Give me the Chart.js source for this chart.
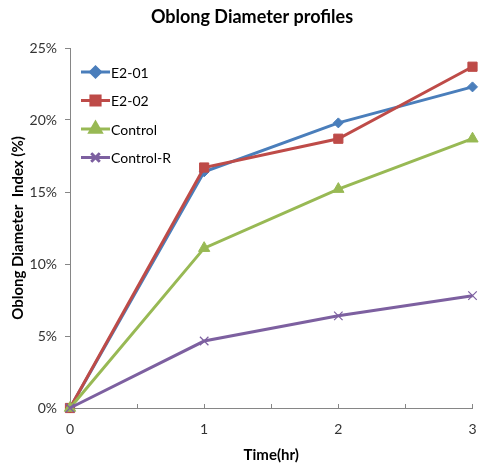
<!DOCTYPE html>
<html>
<head>
<meta charset="utf-8">
<title>Oblong Diameter profiles</title>
<script src="https://cdn.jsdelivr.net/npm/chart.js@4/dist/chart.umd.min.js"></script>
<style>
  html, body { margin: 0; padding: 0; background: #fff; }
  #wrap { width: 480px; height: 466px; }
</style>
</head>
<body>
<div id="wrap"><canvas id="chart" width="480" height="466"></canvas></div>
<script>
'use strict';

// ── Data ─────────────────────────────────────────────────────────────────────
const times    = [0, 1, 2, 3];
const e201     = [0, 16.4, 19.8, 22.3];
const e202     = [0, 16.7, 18.7, 23.7];
const control  = [0, 11.1, 15.2, 18.7];
const controlR = [0, 4.65, 6.4, 7.8];
const seriesNames = ['E2-01', 'E2-02', 'Control', 'Control-R'];

const FONT = 'Lato, "Open Sans", sans-serif';
const AXIS = '#868686';

function pts(vals) { return vals.map((v, i) => ({ x: times[i], y: v })); }

function series(label, vals, color, style, radius, order) {
  return {
    label,
    data: pts(vals),
    borderColor: color,
    backgroundColor: color,
    borderWidth: 3,
    pointStyle: style,
    pointRadius: radius,
    pointHoverRadius: radius,
    pointBackgroundColor: color,
    pointBorderColor: color,
    pointBorderWidth: style === 'crossRot' ? 1.2 : 1,
    tension: 0,
    clip: false,
    order,
  };
}

// ── Title + in-plot legend (Excel style) ─────────────────────────────────────
const decor = {
  id: 'decor',
  afterDraw(chart) {
    const ctx = chart.ctx;
    ctx.save();
    ctx.fillStyle = '#000';
    ctx.font = 'bold 18px ' + FONT;
    ctx.textAlign = 'center';
    ctx.textBaseline = 'middle';
    ctx.fillText('Oblong Diameter profiles', 252, 17);

    ctx.font = '14px ' + FONT;
    ctx.textAlign = 'left';
    chart.data.datasets.forEach((ds, i) => {
      const y = 72 + i * 28.5;
      ctx.strokeStyle = ds.borderColor;
      ctx.lineWidth = 3;
      ctx.beginPath();
      ctx.moveTo(81, y);
      ctx.lineTo(110, y);
      ctx.stroke();
      Chart.helpers.drawPoint(ctx, {
        pointStyle: ds.pointStyle,
        radius: ds.pointRadius,
        rotation: 0,
        borderWidth: ds.pointBorderWidth,
      }, 95.5, y);
      ctx.fillStyle = ds.borderColor;
      ctx.strokeStyle = ds.borderColor;
      ctx.lineWidth = ds.pointBorderWidth;
      ctx.fill();
      ctx.stroke();
      ctx.fillStyle = '#000';
      ctx.fillText(ds.label, 111, y + 1);
    });
    ctx.restore();
  },
};

new Chart(document.getElementById('chart'), {
  type: 'line',
  data: {
    datasets: [
      series(seriesNames[0], e201,     '#4A7EBB', 'rectRot',  5,   4),
      series(seriesNames[1], e202,     '#BE4B48', 'rect',     6.5, 3),
      series(seriesNames[2], control,  '#98B954', 'triangle', 6.5, 2),
      series(seriesNames[3], controlR, '#7D60A0', 'crossRot', 6,   1),
    ],
  },
  options: {
    responsive: false,
    animation: false,
    layout: { padding: { top: 48, right: 7, bottom: 0, left: 0 } },
    plugins: {
      legend: { display: false },
      title: { display: false },
      tooltip: { enabled: false },
    },
    scales: {
      x: {
        type: 'linear',
        min: 0,
        max: 3,
        afterFit: (s) => { s.height = 58; s.paddingRight = 0; s.paddingLeft = 0; },
        ticks: {
          stepSize: 0.5,
          autoSkip: false,
          maxRotation: 0,
          padding: 17,
          color: '#333',
          font: { family: FONT, size: 14 },
          callback: (v) => (Number.isInteger(v) ? String(v) : ''),
        },
        grid: { drawOnChartArea: false, tickLength: -4, color: AXIS, tickWidth: 1 },
        border: { color: AXIS, width: 1 },
        title: {
          display: true,
          text: 'Time(hr)',
          color: '#000',
          font: { family: FONT, size: 15, weight: 'bold' },
          padding: { top: 0, bottom: 2 },
        },
      },
      y: {
        min: 0,
        max: 25,
        afterFit: (s) => { s.width = 70; },
        ticks: {
          stepSize: 5,
          padding: 8,
          color: '#333',
          font: { family: FONT, size: 14 },
          callback: (v) => v + '%',
        },
        grid: { drawOnChartArea: false, tickLength: 5, color: AXIS },
        border: { color: AXIS, width: 1 },
        title: {
          display: true,
          text: 'Oblong Diameter  Index (%)',
          color: '#000',
          font: { family: FONT, size: 15, weight: 'bold' },
          padding: { top: 9, bottom: 0 },
        },
      },
    },
  },
  plugins: [decor],
});
</script>
</body>
</html>
